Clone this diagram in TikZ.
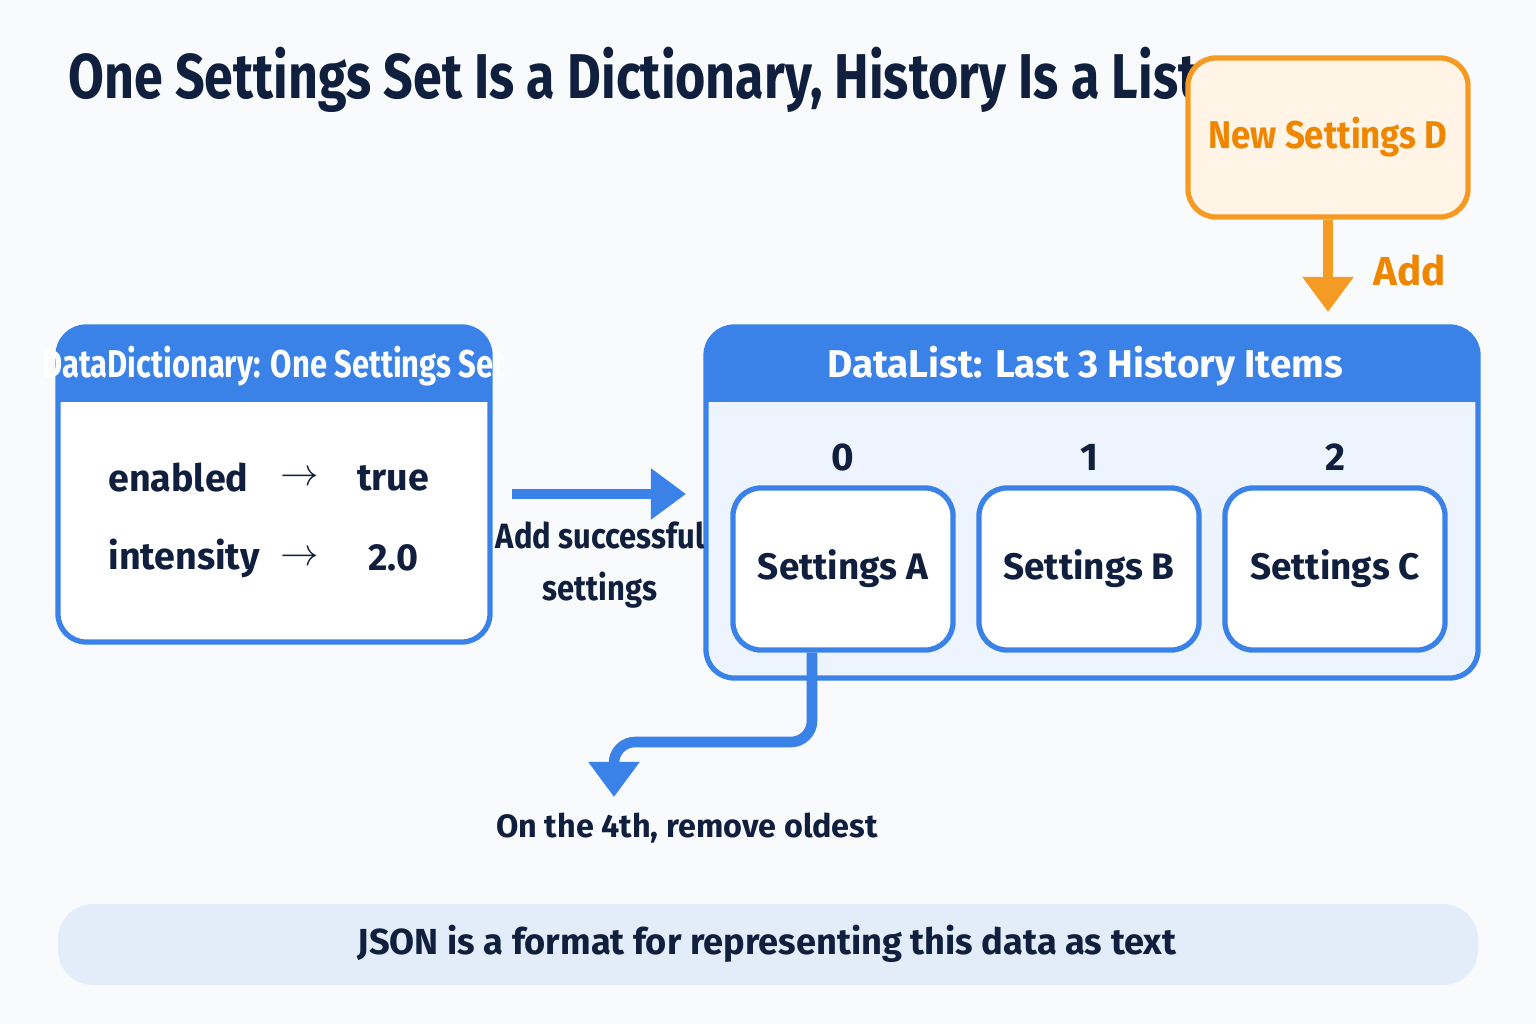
\documentclass[tikz,border=0pt]{standalone}
\usepackage{fontspec}
\setmainfont{Fira Sans}
\usetikzlibrary{positioning, arrows.meta, calc}
\definecolor{navy}{HTML}{0F1F3D}
\definecolor{blueM}{HTML}{3B82E8}
\definecolor{blueL}{HTML}{EEF4FD}
\definecolor{blueF}{HTML}{E3EDFA}
\definecolor{orangeM}{HTML}{F59A23}
\definecolor{orangeT}{HTML}{EE8600}
\definecolor{orangeL}{HTML}{FFF4E5}
\definecolor{bg}{HTML}{F8FAFC}
\tikzset{
  box/.style={draw=blueM, line width=1.5pt, rounded corners=8pt, fill=white},
  item/.style={box, minimum width=2.2cm, minimum height=1.62cm, font=\fontsize{10.5}{13}\selectfont\bfseries, text=navy},
  idx/.style={font=\fontsize{11}{13}\selectfont\bfseries, text=navy},
  row/.style={font=\fontsize{10.7}{13}\selectfont\bfseries, text=navy},
  link/.style={line width=3pt, -{Triangle[length=10pt,width=14pt]}, rounded corners=6pt}
}
\begin{document}
\begin{tikzpicture}[x=0.01cm, y=-0.01cm]
\fill[bg] (0,0) rectangle (1536,1024);
\useasboundingbox (0,0) rectangle (1536,1024);

% title
\node[anchor=west, text=navy, font=\fontsize{18}{22}\selectfont\bfseries] (title) at (56,80) {\scalebox{0.82}[1]{One Settings Set Is a Dictionary, History Is a List}};

% new item
\node[draw=orangeM, fill=orangeL, line width=1.5pt, rounded corners=8pt, minimum width=2.8cm, minimum height=1.59cm,
  text=orangeT, font=\fontsize{11}{13}\selectfont\bfseries] (newD) at (1328,137.5) {\scalebox{0.9}[1]{New Settings D}};
\coordinate (addEnd) at (1328,312);
\draw[link, draw=orangeM] (newD) -- (addEnd);
\node[text=orangeT, font=\fontsize{11.5}{14}\selectfont\bfseries] (addLbl) at (1410,270) {Add};

% dictionary
\fill[white, rounded corners=8pt] (58,327) rectangle (490,642);
\begin{scope}
\clip[rounded corners=8pt] (58,327) rectangle (490,642);
\fill[blueM] (58,327) rectangle (490,402);
\end{scope}
\draw[blueM, line width=1.5pt, rounded corners=8pt] (58,327) rectangle (490,642);
\node[text=white, font=\fontsize{11}{13}\selectfont\bfseries] (dictHead) at (274,366) {\scalebox{0.8}[1]{DataDictionary: One Settings Set}};
\node[row, anchor=west] (kEn) at (96,478) {enabled};
\node[row] (aEn) at (300,478) {$\rightarrow$};
\node[row] (vEn) at (393,478) {true};
\node[row, anchor=west] (kIn) at (96,558) {intensity};
\node[row] (aIn) at (300,558) {$\rightarrow$};
\node[row] (vIn) at (393,558) {2.0};

% list
\fill[blueL, rounded corners=8pt] (706,327) rectangle (1478,678);
\begin{scope}
\clip[rounded corners=8pt] (706,327) rectangle (1478,678);
\fill[blueM] (706,327) rectangle (1478,402);
\end{scope}
\draw[blueM, line width=1.5pt, rounded corners=8pt] (706,327) rectangle (1478,678);
\node[text=white, font=\fontsize{11}{13}\selectfont\bfseries] (listHead) at (1085,366) {DataList: Last 3 History Items};

\coordinate (dictOut) at (512,494);
\coordinate (listIn) at (686,494);
\draw[link, draw=blueM] (dictOut) -- (listIn);
\node[text=navy, font=\fontsize{10}{15}\selectfont\bfseries, align=center] (addSucc) at (600,565) {\scalebox{0.88}[1]{Add successful}\\\scalebox{0.88}[1]{settings}};

\foreach \n/\x/\i in {A/843/0, B/1089/1, C/1335/2}{
  \node[item] (set\n) at (\x,569) {Settings \n};
  \node[idx] (idx\n) at (\x,457) {\i};
}

% removal
\coordinate (remEnd) at (614,797);
\draw[link, draw=blueM] (setA.south -| 812,0) -- (812,742) -- (614,742) -- (remEnd);
\node[text=navy, font=\fontsize{9.2}{11}\selectfont\bfseries] (remLbl) at (687,828) {On the 4th, remove oldest};

% footer
\fill[blueF, rounded corners=10pt] (58,904) rectangle (1478,985);
\node[text=navy, font=\fontsize{10.3}{13}\selectfont\bfseries] (footer) at (767,944) {JSON is a format for representing this data as text};
\end{tikzpicture}
\end{document}
